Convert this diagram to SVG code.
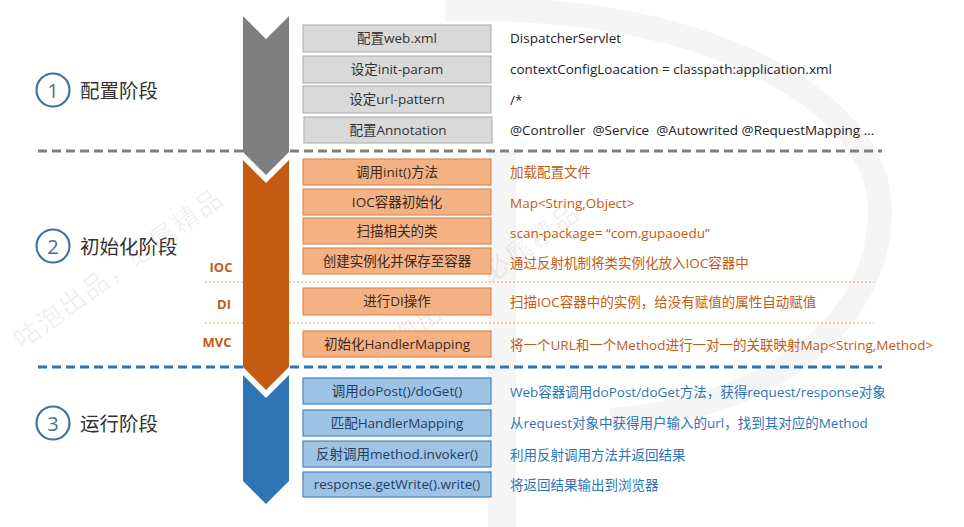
<svg xmlns="http://www.w3.org/2000/svg" width="964" height="527" viewBox="0 0 964 527">
<style>
  text { font-family: "Open Sans", "Noto Sans CJK SC", sans-serif; }
  .bx { font-size: 13.5px; text-anchor: middle; }
  .g rect { fill: #D9D9D9; stroke: #B4B4B4; stroke-width: 1.2; }
  .g text { fill: #333333; }
  .o rect { fill: #F4B183; stroke: #DD8A55; stroke-width: 1.2; }
  .o text { fill: #3A2A20; }
  .b rect { fill: #9DC3E6; stroke: #4A86C0; stroke-width: 1.2; }
  .b text { fill: #263E5E; }
  .rt { font-size: 13.5px; }
  .rg { fill: #222222; }
  .ro { fill: #C55A11; }
  .rb { fill: #2E75B6; }
  .stage { font-size: 19.5px; fill: #333333; }
  .num { font-size: 20px; fill: #41719C; text-anchor: middle; }
  .circ { fill: none; stroke: #41719C; stroke-width: 2.2; }
  .tag { font-size: 13px; font-weight: bold; fill: #C55A11; text-anchor: middle; }
  .wm { font-size: 26px; fill: #000000; fill-opacity: 0.07; letter-spacing: 2px; font-family: "Noto Sans CJK SC", sans-serif; }
</style>
<rect width="964" height="527" fill="#FFFFFF"/>
<g id="watermark">
  <path d="M 445 10 C 700 0, 880 100, 880 210 C 880 330, 760 410, 610 420" fill="none" stroke="#000" stroke-opacity="0.04" stroke-width="24"/>
  <rect x="488" y="150" width="28" height="377" fill="#000" fill-opacity="0.04"/>
  <text class="wm" transform="translate(22 350) rotate(-36)">咕泡出品，必属精品</text>
  <text class="wm" transform="translate(378 365) rotate(-36)">咕泡出品，必属精品</text>
</g>
<g id="connectors">
  <line x1="38" y1="151" x2="882" y2="151" stroke="#7F7F7F" stroke-width="3" stroke-dasharray="9 5"/>
  <line x1="38" y1="367" x2="882" y2="367" stroke="#2E75B6" stroke-width="3" stroke-dasharray="9 5"/>
  <line x1="205" y1="282" x2="874" y2="282" stroke="#F0A070" stroke-width="1" stroke-dasharray="2 2"/>
  <line x1="205" y1="323" x2="874" y2="323" stroke="#F0A070" stroke-width="1" stroke-dasharray="2 2"/>
</g>
<g id="arrow-config"><path d="M243 16 L266 39 L289 16 L289 152 L266 175 L243 152 Z" fill="#7F7F7F"/></g>
<g id="arrow-init"><path d="M243 160 L266 183 L289 160 L289 367 L266 390 L243 367 Z" fill="#C55A11"/></g>
<g id="arrow-run"><path d="M243 375 L266 398 L289 375 L289 481 L266 504 L243 481 Z" fill="#2E75B6"/></g>

<g id="stage1"><circle class="circ" cx="53" cy="90" r="16.5"/><text class="num" x="53" y="97.5">1</text><text class="stage" x="80" y="98">配置阶段</text></g>
<g id="stage2"><circle class="circ" cx="53" cy="246" r="16.5"/><text class="num" x="53" y="253.5">2</text><text class="stage" x="80" y="254">初始化阶段</text></g>
<g id="stage3"><circle class="circ" cx="53" cy="423" r="16.5"/><text class="num" x="53" y="430.5">3</text><text class="stage" x="80" y="431">运行阶段</text></g>

<g id="tag-ioc"><text class="tag" x="221" y="272">IOC</text></g>
<g id="tag-di"><text class="tag" x="224" y="309">DI</text></g>
<g id="tag-mvc"><text class="tag" x="217" y="347">MVC</text></g>

<g id="n1" class="g"><rect x="303" y="25" width="188" height="27"/><text class="bx" x="397" y="43">配置web.xml</text></g>
<g id="n2" class="g"><rect x="303" y="56" width="188" height="27"/><text class="bx" x="397" y="74">设定init-param</text></g>
<g id="n3" class="g"><rect x="303" y="86" width="188" height="27"/><text class="bx" x="397" y="104">设定url-pattern</text></g>
<g id="n4" class="g"><rect x="304" y="117" width="188" height="26"/><text class="bx" x="398" y="135">配置Annotation</text></g>

<g id="n5" class="o"><rect x="303" y="159" width="188" height="26"/><text class="bx" x="397" y="177">调用init()方法</text></g>
<g id="n6" class="o"><rect x="303" y="189" width="188" height="26"/><text class="bx" x="397" y="207">IOC容器初始化</text></g>
<g id="n7" class="o"><rect x="303" y="218" width="188" height="26"/><text class="bx" x="397" y="236">扫描相关的类</text></g>
<g id="n8" class="o"><rect x="303" y="248" width="188" height="26"/><text class="bx" x="397" y="266">创建实例化并保存至容器</text></g>
<g id="n9" class="o"><rect x="303" y="288" width="188" height="27"/><text class="bx" x="397" y="306">进行DI操作</text></g>
<g id="n10" class="o"><rect x="303" y="331" width="188" height="26"/><text class="bx" x="397" y="349">初始化HandlerMapping</text></g>

<g id="n11" class="b"><rect x="303" y="378" width="188" height="26"/><text class="bx" x="397" y="396">调用doPost()/doGet()</text></g>
<g id="n12" class="b"><rect x="303" y="410" width="188" height="26"/><text class="bx" x="397" y="428">匹配HandlerMapping</text></g>
<g id="n13" class="b"><rect x="303" y="441" width="188" height="26"/><text class="bx" x="397" y="459">反射调用method.invoker()</text></g>
<g id="n14" class="b"><rect x="303" y="472" width="188" height="25"/><text class="bx" x="397" y="489">response.getWrite().write()</text></g>

<g id="desc">
  <text class="rt rg" x="510" y="43">DispatcherServlet</text>
  <text class="rt rg" x="510" y="74">contextConfigLoacation = classpath:application.xml</text>
  <text class="rt rg" x="510" y="105">/*</text>
  <text class="rt rg" x="510" y="135" xml:space="preserve">@Controller  @Service  @Autowrited @RequestMapping ...</text>
  <text class="rt ro" x="510" y="177">加载配置文件</text>
  <text class="rt ro" x="510" y="208">Map&lt;String,Object&gt;</text>
  <text class="rt ro" x="510" y="238">scan-package= “com.gupaoedu”</text>
  <text class="rt ro" x="510" y="268">通过反射机制将类实例化放入IOC容器中</text>
  <text class="rt ro" x="510" y="307">扫描IOC容器中的实例，给没有赋值的属性自动赋值</text>
  <text class="rt ro" x="510" y="350">将一个URL和一个Method进行一对一的关联映射Map&lt;String,Method&gt;</text>
  <text class="rt rb" x="510" y="397">Web容器调用doPost/doGet方法，获得request/response对象</text>
  <text class="rt rb" x="510" y="428">从request对象中获得用户输入的url，找到其对应的Method</text>
  <text class="rt rb" x="510" y="460">利用反射调用方法并返回结果</text>
  <text class="rt rb" x="510" y="490">将返回结果输出到浏览器</text>
</g>
</svg>
